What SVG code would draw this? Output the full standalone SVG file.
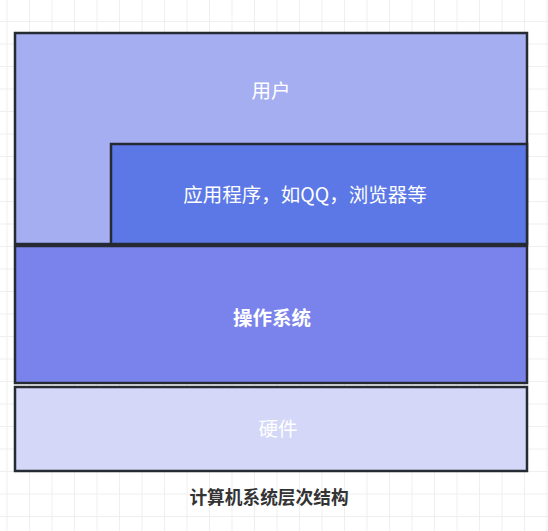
<svg xmlns="http://www.w3.org/2000/svg" width="548" height="531" viewBox="0 0 548 531">
  <defs>
    <pattern id="grid" x="6.5" y="-1.5" width="22.5" height="22.5" patternUnits="userSpaceOnUse">
      <path d="M0.5 0V22.5M0 0.5H22.5" fill="none" stroke="#efefef" stroke-width="1"/>
    </pattern>
    <style>
      .box { stroke: #262b33; stroke-width: 2.5; }
      .lbl { font-family: "Noto Sans CJK SC", "Liberation Sans", sans-serif; fill: #ffffff; text-anchor: middle; dominant-baseline: central; font-size: 19.5px; }
    </style>
  </defs>
  <rect width="548" height="531" fill="#ffffff"/>
  <rect width="548" height="531" fill="url(#grid)"/>
  <g id="user">
    <rect class="box" x="15" y="33" width="512" height="211" fill="#a6aef2"/>
    <text class="lbl" x="271" y="89">用户</text>
  </g>
  <g id="apps">
    <rect class="box" x="111" y="144" width="416" height="100" fill="#5b78e6"/>
    <text class="lbl" x="305" y="193">应用程序，如QQ，浏览器等</text>
  </g>
  <g id="os">
    <rect class="box" x="15" y="246" width="512" height="137" fill="#7a82eb"/>
    <text class="lbl" x="272" y="316" font-weight="bold">操作系统</text>
  </g>
  <g id="hardware">
    <rect class="box" x="15" y="387" width="512" height="84" fill="#d4d7f7"/>
    <text class="lbl" x="278" y="427">硬件</text>
  </g>
  <g id="connectors"></g>
  <g id="title">
    <text x="269" y="496" font-family="Noto Sans CJK SC, Liberation Sans, sans-serif" font-size="17.7" font-weight="bold" fill="#333333" text-anchor="middle" dominant-baseline="central">计算机系统层次结构</text>
  </g>
</svg>
